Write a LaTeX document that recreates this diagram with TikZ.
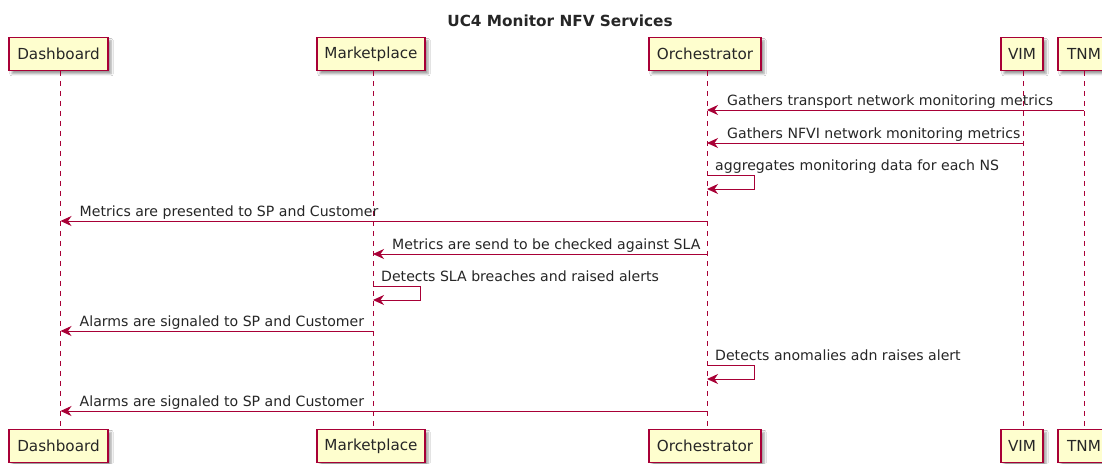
\documentclass[tikz,border=0pt]{standalone}
\usepackage{fontspec}
\setmainfont{DejaVu Sans}
\usetikzlibrary{arrows.meta,shadows.blur}
\definecolor{pborder}{HTML}{A80036}
\definecolor{pfill}{HTML}{FEFECE}
\begin{document}
\begin{tikzpicture}[x=1pt,y=-1pt,
  part/.style={draw=pborder, fill=pfill, line width=1.3pt, minimum height=33pt,
    inner sep=0pt, font=\fontsize{15.2}{17}\selectfont, text=black!85,
    blur shadow={shadow xshift=3pt, shadow yshift=-3pt, shadow blur steps=4, shadow opacity=40}},
  lifeline/.style={draw=pborder, line width=1pt, dash pattern=on 5pt off 5pt},
  msg/.style={draw=pborder, line width=1pt, -{Stealth[length=11pt,width=10pt,inset=3.5pt]}},
  lbl/.style={anchor=base west, inner sep=0pt, font=\fontsize{14.1}{16}\selectfont, text=black!85},
]
\useasboundingbox (0,0) rectangle (1102,463);
\fill[white] (0,0) rectangle (1102,463);

\node[anchor=base, font=\bfseries\fontsize{15.3}{17}\selectfont, text=black!85] (title) at (560,26) {UC4 Monitor NFV Services};

% top participants
\node[part, minimum width=99pt] (dash) at (58.5,54.2) {Dashboard};
\node[part, minimum width=108pt] (mkt) at (371,54.2) {Marketplace};
\node[part, minimum width=112pt] (orch) at (705,54.2) {Orchestrator};
\node[part, minimum width=42pt] (vim) at (1022,54.2) {VIM};
\node[part, minimum width=52pt] (tnm) at (1084,54.2) {TNM};
% bottom participants
\node[part, minimum width=99pt] (dashb) at (58.5,446) {Dashboard};
\node[part, minimum width=108pt] (mktb) at (371,446) {Marketplace};
\node[part, minimum width=112pt] (orchb) at (705,446) {Orchestrator};
\node[part, minimum width=42pt] (vimb) at (1022,446) {VIM};
\node[part, minimum width=52pt] (tnmb) at (1084,446) {TNM};

% lifelines
\coordinate (dL) at (60.5,0);
\coordinate (mL) at (373,0);
\coordinate (oL) at (707,0);
\coordinate (vL) at (1023.5,0);
\coordinate (tL) at (1084,0);
\draw[lifeline] (dL |- dash.south) -- (dL |- dashb.north);
\draw[lifeline] (mL |- mkt.south) -- (mL |- mktb.north);
\draw[lifeline] (oL |- orch.south) -- (oL |- orchb.north);
\draw[lifeline] (vL |- vim.south) -- (vL |- vimb.north);
\draw[lifeline] (tL |- tnm.south) -- (tL |- tnmb.north);

% message rows
\coordinate (m1) at (0,110);
\coordinate (m2) at (0,143);
\coordinate (s1a) at (0,175);
\coordinate (s1b) at (0,189);
\coordinate (m4) at (0,221);
\coordinate (m5) at (0,254);
\coordinate (s2a) at (0,286);
\coordinate (s2b) at (0,300);
\coordinate (m7) at (0,331);
\coordinate (s3a) at (0,365);
\coordinate (s3b) at (0,379);
\coordinate (m9) at (0,411);

\draw[msg] (tL |- m1) -- (oL |- m1);
\node[lbl] (l1) at ([xshift=20pt,yshift=5pt]oL |- m1) {Gathers transport network monitoring metrics};
\draw[msg] (vL |- m2) -- (oL |- m2);
\node[lbl] (l2) at ([xshift=20pt,yshift=5pt]oL |- m2) {Gathers NFVI network monitoring metrics};
\draw[msg] (oL |- s1a) -- ++(47,0) |- (oL |- s1b);
\node[lbl] (l3) at ([xshift=8pt,yshift=5pt]oL |- s1a) {aggregates monitoring data for each NS};
\draw[msg] (oL |- m4) -- (dL |- m4);
\node[lbl] (l4) at ([xshift=19pt,yshift=5pt]dL |- m4) {Metrics are presented to SP and Customer};
\draw[msg] (oL |- m5) -- (mL |- m5);
\node[lbl] (l5) at ([xshift=19pt,yshift=5pt]mL |- m5) {Metrics are send to be checked against SLA};
\draw[msg] (mL |- s2a) -- ++(47,0) |- (mL |- s2b);
\node[lbl] (l6) at ([xshift=8pt,yshift=5pt]mL |- s2a) {Detects SLA breaches and raised alerts};
\draw[msg] (mL |- m7) -- (dL |- m7);
\node[lbl] (l7) at ([xshift=19pt,yshift=5pt]dL |- m7) {Alarms are signaled to SP and Customer};
\draw[msg] (oL |- s3a) -- ++(47,0) |- (oL |- s3b);
\node[lbl] (l8) at ([xshift=8pt,yshift=5pt]oL |- s3a) {Detects anomalies adn raises alert};
\draw[msg] (oL |- m9) -- (dL |- m9);
\node[lbl] (l9) at ([xshift=19pt,yshift=5pt]dL |- m9) {Alarms are signaled to SP and Customer};
\end{tikzpicture}
\end{document}
